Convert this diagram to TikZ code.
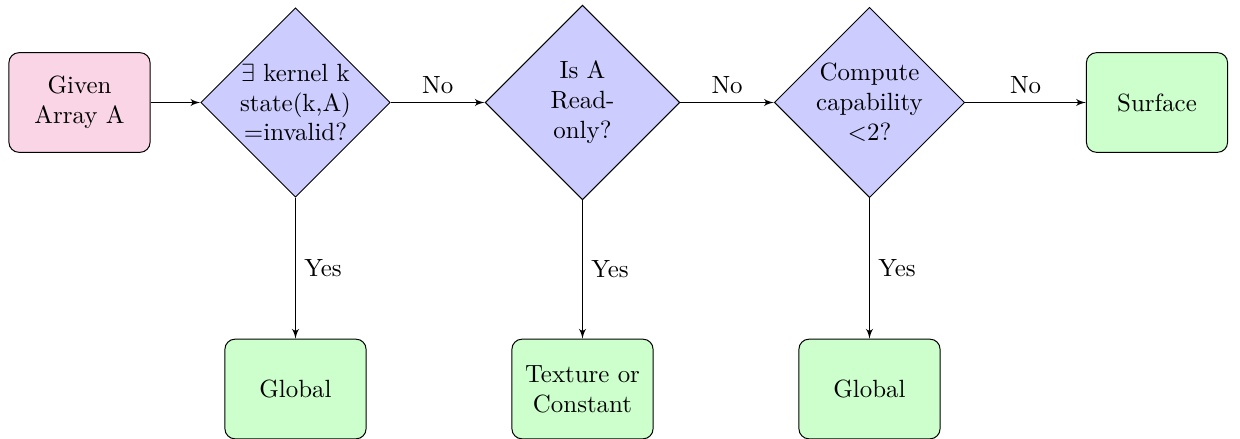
\documentclass[tikz,border=0pt]{standalone}
\usetikzlibrary{shapes.geometric,arrows}
\definecolor{startpink}{RGB}{249,213,229}
\tikzset{
  every picture/.style={x=0.4016pt,y=-0.4016pt},
  block/.style={rectangle, draw, text width=5em, align=center,
    rounded corners, minimum height=4em, font=\normalsize},
  startblock/.style={block, fill=startpink},
  endblock/.style={block, fill=green!20},
  decision/.style={diamond, draw, fill=blue!20, text width=4.5em,
    align=center, inner sep=0pt},
  line/.style={draw, -latex'},
  lbl/.style={font=\normalsize}
}
\begin{document}
\begin{tikzpicture}
  \useasboundingbox (0,0) rectangle (1240,439);
  % start node and the three tests
  \node[startblock] (given) at (79.5,102.5) {Given Array A};
  \node[decision] (inval) at (295.5,102.5) {$\exists$ kernel k state(k,A) =invalid?};
  \node[decision] (ronly) at (582.5,102.5) {Is A Read-only?};
  \node[decision] (ccap) at (869.5,102.5) {Compute capability $<$2?};
  % outcomes
  \node[endblock] (surf) at (1157,102.5) {Surface};
  \node[endblock] (glob1) at (295.5,389) {Global};
  \node[endblock] (tex) at (582.5,389) {Texture or Constant};
  \node[endblock] (glob2) at (869.5,389) {Global};
  % connectors
  \path[line] (given) -- (inval);
  \path[line] (inval) -- node[lbl, above] {No} (ronly);
  \path[line] (ronly) -- node[lbl, above] {No} (ccap);
  \path[line] (ccap) -- node[lbl, above] {No} (surf);
  \path[line] (inval) -- node[lbl, right] {Yes} (glob1);
  \path[line] (ronly) -- node[lbl, right] {Yes} (tex);
  \path[line] (ccap) -- node[lbl, right] {Yes} (glob2);
\end{tikzpicture}
\end{document}
